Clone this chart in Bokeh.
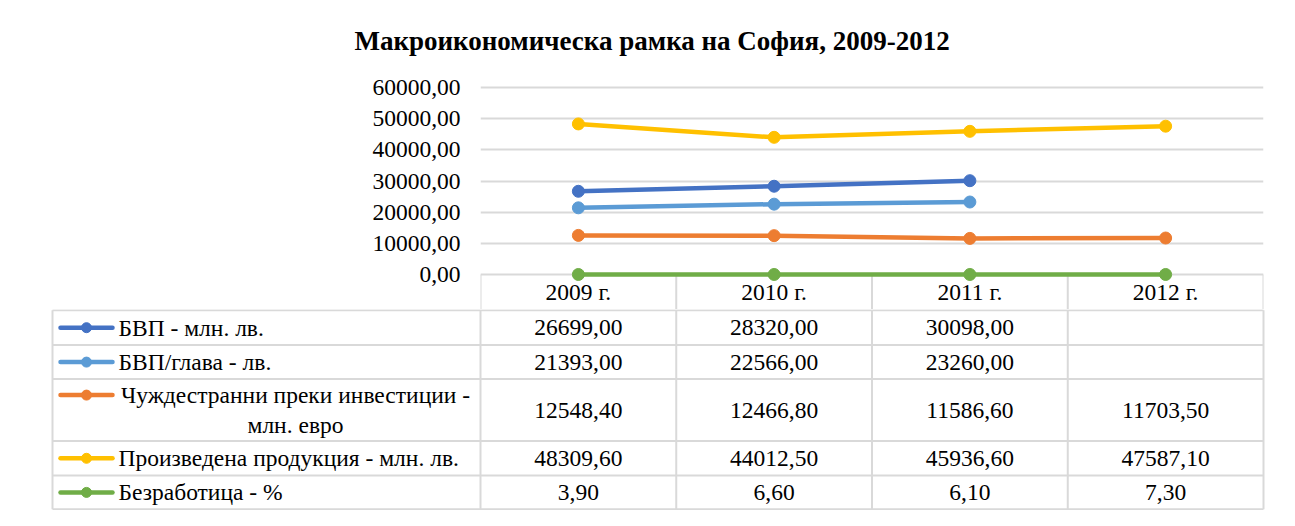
from bokeh.plotting import figure
from bokeh.models import ColumnDataSource, Range1d, FactorRange, FixedTicker
from bokeh.layouts import column
from bokeh.embed import file_html
from bokeh.resources import INLINE
from bokeh.core.properties import value

# ---------------- data ----------------
years = ["2009 г.", "2010 г.", "2011 г.", "2012 г."]
series_names = [
    "БВП - млн. лв.",
    "БВП/глава - лв.",
    "Чуждестранни преки инвестиции -\nмлн. евро",
    "Произведена продукция - млн. лв.",
    "Безработица - %",
]
gdp = [26699.00, 28320.00, 30098.00, None]
gdp_per_capita = [21393.00, 22566.00, 23260.00, None]
fdi = [12548.40, 12466.80, 11586.60, 11703.50]
production = [48309.60, 44012.50, 45936.60, 47587.10]
unemployment = [3.90, 6.60, 6.10, 7.30]
y_ticks = [0, 10000, 20000, 30000, 40000, 50000, 60000]
title_text = "Макроикономическа рамка на София, 2009-2012"

series_values = [gdp, gdp_per_capita, fdi, production, unemployment]
colors = ["#4472C4", "#5B9BD5", "#ED7D31", "#FFC000", "#70AD47"]

FONT = "Liberation Serif"
FS = "23.5px"
GRID = "#d9d9d9"
TXT = "#000000"

W_TOTAL = 1279
# ---------------- figure A: chart + header row ----------------
H_A = 309
frame_left = 480
frame_right = 1263
frame_top = 82
zero_y = 274
px_per_unit = (zero_y - 87) / 60000.0
y_end = 60000 + (87 - frame_top) / px_per_unit
y_start = -(H_A - zero_y) / px_per_unit

p = figure(width=W_TOTAL, height=H_A, x_range=FactorRange(*years, range_padding=0),
           y_range=Range1d(y_start, y_end), output_backend="svg", toolbar_location=None,
           min_border_left=frame_left, min_border_right=W_TOTAL - frame_right,
           min_border_top=frame_top, min_border_bottom=0)
p.frame_align = False
p.outline_line_color = None
p.background_fill_color = "white"
p.border_fill_color = "white"
p.xgrid.visible = False
p.xaxis.visible = False
p.ygrid.ticker = FixedTicker(ticks=y_ticks)
p.ygrid.grid_line_color = GRID
p.ygrid.grid_line_width = 2
yax = p.yaxis[0]
yax.ticker = FixedTicker(ticks=y_ticks)
yax.major_label_overrides = {t: f"{t},00" for t in y_ticks}
yax.axis_line_color = None
yax.major_tick_line_color = None
yax.minor_tick_line_color = None
yax.major_tick_out = 0
yax.major_tick_in = 0
yax.major_label_standoff = 20
yax.major_label_text_font = FONT
yax.major_label_text_font_size = FS
yax.major_label_text_color = TXT

p.title.text = title_text
p.title.align = "left"
p.title.offset = 354 - 480
p.title.text_font = FONT
p.title.text_font_size = "27px"
p.title.text_font_style = "bold"
p.title.text_color = TXT
p.title.vertical_align = "top"
p.title.standoff = 50

# header row: separators and year labels
hdr_bottom = y_start
bounds = [(yr, -0.5) for yr in years] + [(years[-1], 0.5)]
p.segment(x0=bounds, y0=[0] * len(bounds), x1=bounds, y1=[hdr_bottom] * len(bounds),
          line_color=GRID, line_width=2)
hdr_src = ColumnDataSource(dict(x=years, y=[hdr_bottom / 2] * len(years), t=years))
p.text(x="x", y="y", text="t", source=hdr_src, text_align="center", text_baseline="middle",
       text_font=value(FONT), text_font_size=FS, text_color=TXT)

for vals, col in zip(series_values, colors):
    xs = [yr for yr, v in zip(years, vals) if v is not None]
    ys = [v for v in vals if v is not None]
    src = ColumnDataSource(dict(x=xs, y=ys))
    p.line(x="x", y="y", source=src, line_color=col, line_width=4.5, line_cap="round",
           line_join="round")
    p.scatter(x="x", y="y", source=src, size=12, fill_color=col, line_color=col)

# ---------------- figure B: data table ----------------
H_B = 201
W = (frame_right - frame_left) / 4.0          # px per category
tbl_left_px = 50
tbl_right_px = 1265
xr = Range1d((tbl_left_px - frame_left) / W, (tbl_right_px - frame_left) / W)
q = figure(width=W_TOTAL, height=H_B, x_range=xr, y_range=Range1d(H_B, 0),
           output_backend="svg", toolbar_location=None,
           min_border_left=tbl_left_px, min_border_right=W_TOTAL - tbl_right_px,
           min_border_top=0, min_border_bottom=0)
q.frame_align = False
q.outline_line_color = None
q.xaxis.visible = False
q.yaxis.visible = False
q.grid.visible = False
q.background_fill_color = "white"
q.border_fill_color = "white"

def px(xref):
    return (xref - frame_left) / W

row_lines = [0.8, 35.6, 69.6, 131.6, 166.0, 199.8]
left_edge = px(52)
q.segment(x0=[left_edge] * len(row_lines), y0=row_lines, x1=[4] * len(row_lines), y1=row_lines,
          line_color=GRID, line_width=2)
col_lines = [left_edge, 0, 1, 2, 3, 4]
q.segment(x0=col_lines, y0=[row_lines[0]] * len(col_lines), x1=col_lines,
          y1=[row_lines[-1]] * len(col_lines), line_color=GRID, line_width=2)

row_centers = [(a + b) / 2 for a, b in zip(row_lines[:-1], row_lines[1:])]

for r, (name, vals, col) in enumerate(zip(series_names, series_values, colors)):
    yc = row_centers[r]
    lines = name.split("\n")
    if len(lines) == 1:
        key_y = yc
        q.text(x=[px(118)], y=[yc], text=[name], text_align="left", text_baseline="middle",
               text_font=value(FONT), text_font_size=FS, text_color=TXT)
    else:
        key_y = yc - 15
        q.text(x=[px(295)] * 2, y=[yc - 15, yc + 15], text=lines, text_align="center",
               text_baseline="middle", text_font=value(FONT), text_font_size=FS, text_color=TXT)
    q.segment(x0=[px(60)], y0=[key_y], x1=[px(112)], y1=[key_y], line_color=col,
              line_width=4.5, line_cap="round")
    q.scatter(x=[px(86)], y=[key_y], size=10, fill_color=col, line_color=col)
    xs = [i + 0.5 for i, v in enumerate(vals) if v is not None]
    ts = [f"{v:.2f}".replace(".", ",") for v in vals if v is not None]
    q.text(x=xs, y=[yc] * len(xs), text=ts, text_align="center", text_baseline="middle",
           text_font=value(FONT), text_font_size=FS, text_color=TXT)

layout = column(p, q, spacing=0)
open("out.html", "w").write(file_html(layout, INLINE))
